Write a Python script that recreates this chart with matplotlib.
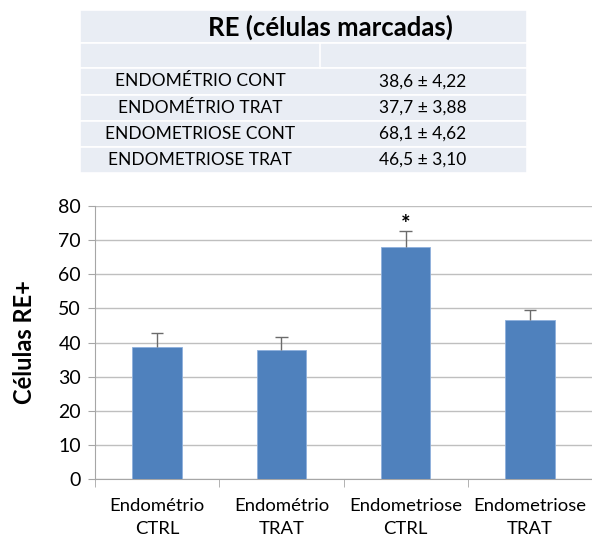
import matplotlib
matplotlib.use('Agg')
import matplotlib.pyplot as plt
from matplotlib.patches import Rectangle
import numpy as np

plt.rcParams['font.family'] = ['Lato', 'DejaVu Sans']

# data
table_title = 'RE (células marcadas)'
table_groups = ['ENDOMÉTRIO CONT', 'ENDOMÉTRIO TRAT', 'ENDOMETRIOSE CONT', 'ENDOMETRIOSE TRAT']
means = [38.6, 37.7, 68.1, 46.5]
sems = [4.22, 3.88, 4.62, 3.10]
bar_labels = ['Endométrio\nCTRL', 'Endométrio\nTRAT', 'Endometriose\nCTRL', 'Endometriose\nTRAT']
signif = ['', '', '*', '']

W, H = 592, 539
fig = plt.figure(figsize=(W / 100, H / 100), dpi=100)

def px_axes(x0, y0, x1, y1):
    # pixel box (top-left origin) -> figure axes
    return fig.add_axes([x0 / W, 1 - y1 / H, (x1 - x0) / W, (y1 - y0) / H])

# ---- table on top ----
tab = px_axes(80, 10, 527, 173)
tab.set_xlim(80, 527)
tab.set_ylim(173, 10)
tab.axis('off')
bg = '#e9edf4'
rows = [10, 43, 68, 95, 121, 147, 173]
for r0, r1 in zip(rows[:-1], rows[1:]):
    tab.add_patch(Rectangle((80, r0), 447, r1 - r0, facecolor=bg, edgecolor='white', lw=1.2))
tab.plot([320, 320], [43, 68], color='white', lw=1.2)
tab.text(330, 27, table_title, ha='center', va='center', fontsize=18.5, fontweight='bold')
for i, (g, m, s) in enumerate(zip(table_groups, means, sems)):
    yc = (rows[i + 2] + rows[i + 3]) / 2
    tab.text(200, yc, g, ha='center', va='center', fontsize=12.5)
    tab.text(423, yc, ('%.1f ± %.2f' % (m, s)).replace('.', ','), ha='center', va='center', fontsize=12.5)

# ---- bar chart ----
ax = px_axes(95, 206, 592, 479)
x = np.arange(len(means))
tops = np.array(means) + np.array(sems)
ax.bar(x, means, width=0.4, color='#4f81bd', edgecolor='#8fb0dc', lw=0.6, zorder=3)
# upper-only error bars
ax.vlines(x, means, tops, color='#6b6b6b', lw=1, zorder=4)
ax.hlines(tops, x - 0.05, x + 0.05, color='#6b6b6b', lw=1, zorder=4)
for xi, top, t in zip(x, tops, signif):
    if t:
        ax.text(xi, top - 1.2, t, ha='center', va='bottom', fontsize=16, fontweight='bold')

ax.set_xlim(-0.5, len(means) - 0.5)
ax.set_ylim(0, 80)
ax.set_yticks(np.arange(0, 81, 10))
ax.yaxis.grid(True, color='#bfbfbf', lw=1, zorder=0)
for sp in ['top', 'right']:
    ax.spines[sp].set_visible(False)
for sp in ['left', 'bottom']:
    ax.spines[sp].set_color('#a6a6a6')
ax.set_xticks(x)
ax.set_xticklabels(bar_labels, fontsize=13.3, linespacing=1.5)
ax.tick_params(axis='x', length=0, pad=14)
ax.set_xticks(np.arange(-0.5, len(means)), minor=True)
ax.tick_params(axis='x', which='minor', length=6, color='#a6a6a6')
ax.tick_params(axis='y', labelsize=14, length=5, color='#a6a6a6', pad=5)
ax.set_ylabel('Células RE+', fontsize=17, fontweight='bold', labelpad=16)

plt.savefig('out.png', dpi=100)
